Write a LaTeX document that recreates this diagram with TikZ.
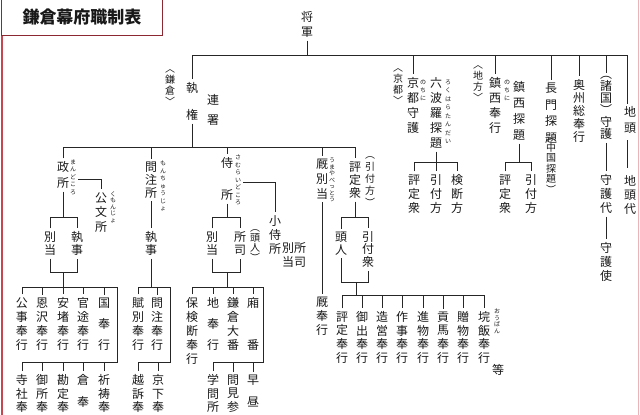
\documentclass[tikz,border=0pt]{standalone}
\usepackage{fontspec}
\newfontfamily\cjk{Noto Sans CJK JP}
\definecolor{lnc}{gray}{0.15}
\definecolor{txt}{gray}{0.1}
\definecolor{frame}{RGB}{200,70,80}
\definecolor{titlebox}{RGB}{140,40,50}
\tikzset{
  vt/.style={align=center, inner sep=0pt, text=txt, font=\cjk\fontsize{12}{#1}\selectfont},
  vt/.default=14,
  vsm/.style={align=center, inner sep=0pt, text=txt, font=\cjk\fontsize{10}{#1}\selectfont},
  vsm/.default=11,
  rby/.style={align=center, inner sep=0pt, text=txt, font=\cjk\fontsize{6}{#1}\selectfont},
  rby/.default=7.5,
  ln/.style={draw=lnc, line width=0.8pt},
}
\newcommand\dropTo[2]{\draw[ln] (#1.north |- 0,#2) -- ([yshift=3pt]#1.north);}
\newcommand\busTo[3]{\draw[ln] ([yshift=3pt]#1.north) |- (#2.north |- 0,#3) -- ([yshift=3pt]#2.north);}
\newcommand\linkTo[2]{\draw[ln] ([yshift=-3pt]#1.south) -- ([yshift=3pt]#2.north);}
\newcommand\downTo[2]{\draw[ln] ([yshift=-3pt]#1.south) -- (#1.south |- 0,#2);}
\newcommand\joinUp[3]{\draw[ln] ([yshift=-3pt]#1.south) |- (#2.south |- 0,#3) -- ([yshift=-3pt]#2.south);}
\begin{document}
\begin{tikzpicture}[x=1pt,y=-1pt]
\useasboundingbox (0,0) rectangle (640,415);
\clip (0,0) rectangle (640,415);
% frame
\draw[frame, line width=1.2pt] (2,-2) -- (2,417);
\draw[frame!40, line width=0.8pt] (638,-2) -- (638,417);
\draw[titlebox, line width=1pt, fill=white] (1,-2) rectangle (162,35);
\node[text=txt, font=\cjk\bfseries\fontsize{17}{17}\selectfont] (title) at (82,17) {鎌倉幕府職制表};

% top level
\node[vt=15] (shogun) at (307,24.5) {将\\軍};
\coordinate (topL) at (192,55);
\coordinate (topR) at (627,55);
\draw[ln] (topL) -- (topR);
\draw[ln] ([yshift=-3pt]shogun.south) -- (shogun.south |- topL);

\node[vt=27] (shikken) at (192,101.5) {執\\権};
\node[vt=20] (rensho) at (213,110) {連\\署};
\node[vsm=11] (kamakura) at (170,88) {︿\\鎌\\倉\\﹀};
\draw[ln] (topL) -- ([yshift=3pt]shikken.north);
\downTo{shikken}{147}

% Kyoto
\node[vsm=11] (kyoto) at (398,87) {︿\\京\\都\\﹀};
\node[vt=15] (kyotoshugo) at (413,105.5) {京\\都\\守\\護};
\dropTo{kyotoshugo}{55}
\node[rby=8] (nochiA) at (423,90) {の\\ち\\に};
\node[vt=15] (rokuhara) at (436,113) {六\\波\\羅\\探\\題};
\node[rby=8.5] (rokuharaR) at (448,112) {ろ\\く\\は\\ら\\た\\ん\\だ\\い};
\node[vt] (rkHyojo) at (414,194) {評\\定\\衆};
\node[vt] (rkHiki) at (436,194) {引\\付\\方};
\node[vt] (rkKendan) at (457,194) {検\\断\\方};
\downTo{rokuhara}{162}
\busTo{rkHyojo}{rkKendan}{162}
\dropTo{rkHiki}{162}

% Chinzei
\node[vsm=11] (chiho) at (478,84) {︿\\地\\方\\﹀};
\node[vt=15] (chinzeiB) at (495,105.5) {鎮\\西\\奉\\行};
\dropTo{chinzeiB}{55}
\node[rby=8] (nochiB) at (507,90) {の\\ち\\に};
\node[vt=16] (chinzeiT) at (519,111) {鎮\\西\\探\\題};
\node[vt] (czHyojo) at (505,194) {評\\定\\衆};
\node[vt] (czHiki) at (531,194) {引\\付\\方};
\downTo{chinzeiT}{162}
\busTo{czHyojo}{czHiki}{162}

% Nagato
\node[vt=16.5] (nagato) at (551,113) {長\\門\\探\\題};
\node[vsm=10.5] (chugoku) at (551,166) {︵\\中\\国\\探\\題\\︶};
\dropTo{nagato}{55}

% Oshu
\node[vt=13] (oshu) at (579,111) {奥\\州\\総\\奉\\行};
\dropTo{oshu}{55}

% Shugo
\node[vt=12] (shugo) at (606,108) {︵\\諸\\国\\︶\\守\\護};
\dropTo{shugo}{55}
\node[vt] (shugodai) at (606,194) {守\\護\\代};
\node[vt] (shugoshi) at (606,262) {守\\護\\使};
\linkTo{shugo}{shugodai}
\linkTo{shugodai}{shugoshi}

% Jito
\node[vt=16] (jito) at (630,120) {地\\頭};
\draw[ln] (topR) -- (topR |- 0,104);
\node[vt] (jitodai) at (630,195) {地\\頭\\代};
\draw[ln] (topR |- 0,140) -- (topR |- 0,168);

% ===== level 2 =====
\node[vt=16] (mandokoro) at (63,175) {政\\所};
\node[rby=7.5] (mandokoroR) at (73,177) {ま\\ん\\ど\\こ\\ろ};
\node[vt=14.5] (kumonjo) at (101,212.5) {公\\文\\所};
\node[rby=6.5] (kumonjoR) at (113,207) {く\\も\\ん\\じ\\ょ};
\node[vt=13] (monchu) at (151,180) {問\\注\\所};
\node[rby=7.5] (monchuR) at (163,186) {も\\ん\\ち\\ゅ\\う\\じ\\ょ};
\node[vt=32] (samurai) at (227,179) {侍\\所};
\node[rby=7.5] (samuraiR) at (238,180) {さ\\む\\ら\\い\\ど\\こ\\ろ};
\node[vt=15] (umaya) at (322,179) {厩\\別\\当};
\node[rby=6.5] (umayaR) at (332,180) {う\\ま\\や\\べ\\っ\\と\\う};
\node[vt=13] (hyojo) at (355,180) {評\\定\\衆};
\node[vsm=12] (hikikata) at (370,182) {︵\\引\\付\\方\\︶};
\busTo{mandokoro}{hyojo}{147}
\dropTo{monchu}{147}
\dropTo{samurai}{147}
\dropTo{umaya}{147}
\draw[ln] ([xshift=2pt]mandokoroR.east |- 0,179) -| ([yshift=3pt]kumonjo.north);

% Mandokoro group
\node[vt=13] (mBetto) at (50,243.5) {別\\当};
\node[vt=13] (mShitsuji) at (77,243.5) {執\\事};
\downTo{mandokoro}{217}
\busTo{mBetto}{mShitsuji}{217}
\joinUp{mBetto}{mShitsuji}{272}
\draw[ln] (mandokoro.south |- 0,272) -- (mandokoro.south |- 0,287);
\node[vt] (a1) at (22,324) {公\\事\\奉\\行};
\node[vt] (a2) at (42,324) {恩\\沢\\奉\\行};
\node[vt] (a3) at (63,324) {安\\堵\\奉\\行};
\node[vt] (a4) at (83,324) {官\\途\\奉\\行};
\node[vt=21] (a5) at (104,324) {国\\奉\\行};
\node[vt=13.5] (b1) at (22,393.5) {寺\\社\\奉};
\node[vt=13.5] (b2) at (42,393.5) {御\\所\\奉};
\node[vt=13.5] (b3) at (63,393.5) {勘\\定\\奉};
\node[vt=22] (b4) at (83,391) {倉\\奉};
\node[vt=13.5] (b5) at (104,393.5) {祈\\祷\\奉};
\coordinate (mcA) at (117,287);
\coordinate (mcB) at (117,362);
\draw[ln] ([yshift=3pt]a1.north) |- (mcA) -- (mcB) -| ([yshift=3pt]b1.north);
\dropTo{a2}{287}\dropTo{a3}{287}\dropTo{a4}{287}\dropTo{a5}{287}
\dropTo{b2}{362}\dropTo{b3}{362}\dropTo{b4}{362}\dropTo{b5}{362}

% Monchujo group
\node[vt=13] (moShitsuji) at (151,243.5) {執\\事};
\linkTo{monchu}{moShitsuji}
\downTo{moShitsuji}{287}
\node[vt] (c1) at (138,324) {賦\\別\\奉\\行};
\node[vt] (c2) at (157,324) {問\\注\\奉\\行};
\node[vt=13.5] (d1) at (138,393.5) {越\\訴\\奉};
\node[vt=13.5] (d2) at (158,393.5) {京\\下\\奉};
\coordinate (moA) at (170,287);
\coordinate (moB) at (170,362);
\draw[ln] ([yshift=3pt]c1.north) |- (moA) -- (moB) -| ([yshift=3pt]d1.north);
\dropTo{c2}{287}\dropTo{d2}{362}

% Samurai-dokoro group
\node[vt=14] (kosamurai) at (275,235) {小\\侍\\所};
\node[vt=14] (ksBetto) at (288,255) {別\\当};
\node[vt=14] (ksShoshi) at (300,255) {所\\司};
\draw[ln] ([xshift=2pt]samuraiR.east |- 0,182) -| ([yshift=3pt]kosamurai.north);
\node[vt=13] (sBetto) at (212,243.5) {別\\当};
\node[vt=13] (sShoshi) at (240,243.5) {所\\司};
\node[vsm=10] (sTonin) at (255,246) {︵\\頭\\人\\︶};
\downTo{samurai}{217}
\busTo{sBetto}{sShoshi}{217}
\joinUp{sBetto}{sShoshi}{272}
\draw[ln] (samurai.south |- 0,272) -- (samurai.south |- 0,287);
\node[vt] (e1) at (192,331) {保\\検\\断\\奉\\行};
\node[vt=21] (e2) at (213,324) {地\\奉\\行};
\node[vt] (e3) at (233,324) {鎌\\倉\\大\\番};
\node[vt=42] (e4) at (253,324) {廂\\番};
\node[vt=13.5] (f1) at (213,393.5) {学\\問\\所};
\node[vt=13.5] (f2) at (233,393.5) {問\\見\\参};
\node[vt=22] (f3) at (253,391) {早\\昼};
\coordinate (saA) at (263,287);
\coordinate (saB) at (263,362);
\draw[ln] ([yshift=3pt]e1.north) |- (saA) -- (saB) -| ([yshift=3pt]f1.north);
\dropTo{e2}{287}\dropTo{e3}{287}\dropTo{e4}{287}
\dropTo{f2}{362}\dropTo{f3}{362}

% Umaya
\node[vt] (umayaB) at (322,316) {厩\\奉\\行};
\linkTo{umaya}{umayaB}

% Hyojoshu group
\node[vt=13] (tonin) at (341,243.5) {頭\\人};
\node[vt=12.5] (hikishu) at (368,249.5) {引\\付\\衆};
\downTo{hyojo}{217}
\busTo{tonin}{hikishu}{217}
\joinUp{tonin}{hikishu}{282}
\coordinate (hyJ) at (356,282);
\draw[ln] (hyJ) -- (356,295);
\node[vt=13.7] (g1) at (342,337.5) {評\\定\\奉\\行};
\node[vt=13.7] (g2) at (362,337.5) {御\\出\\奉\\行};
\node[vt=13.7] (g3) at (382,337.5) {造\\営\\奉\\行};
\node[vt=13.7] (g4) at (402,337.5) {作\\事\\奉\\行};
\node[vt=13.7] (g5) at (423,337.5) {進\\物\\奉\\行};
\node[vt=13.7] (g6) at (443,337.5) {貢\\馬\\奉\\行};
\node[vt=13.7] (g7) at (463,337.5) {贈\\物\\奉\\行};
\node[vt=13.7] (g8) at (484,337.5) {垸\\飯\\奉\\行};
\node[rby=6.5] (g8R) at (497,321) {お\\う\\ば\\ん};
\node[vt] (etc) at (498,370) {等};
\busTo{g1}{g8}{295}
\dropTo{g2}{295}\dropTo{g3}{295}\dropTo{g4}{295}
\dropTo{g5}{295}\dropTo{g6}{295}\dropTo{g7}{295}
\end{tikzpicture}
\end{document}
